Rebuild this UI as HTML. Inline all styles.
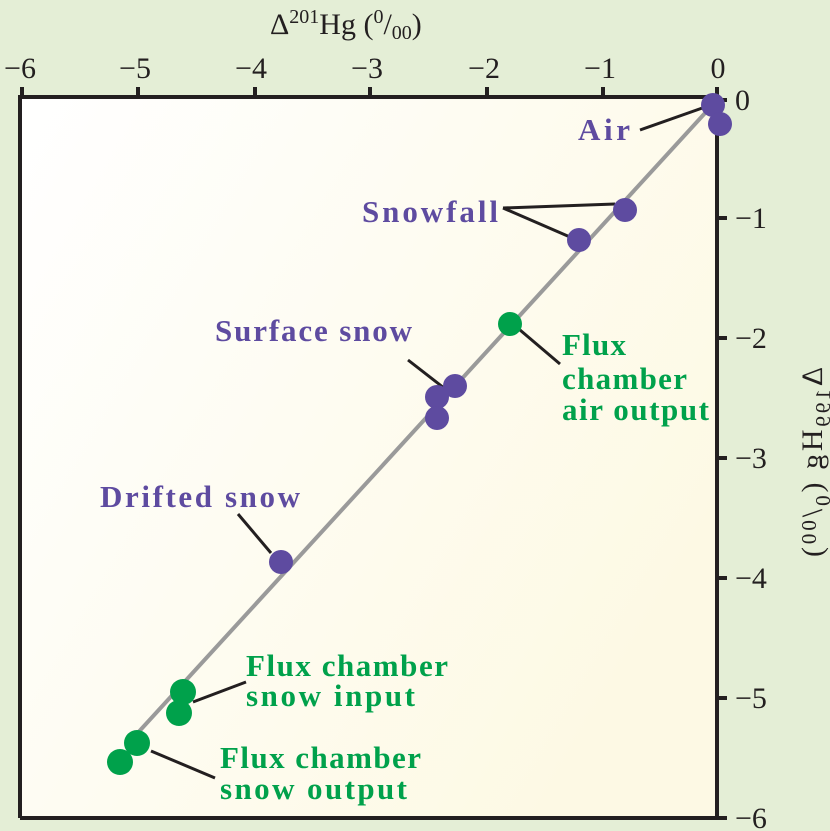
<!DOCTYPE html>
<html><head><meta charset="utf-8"><style>
html,body{margin:0;padding:0;background:#e4eed6;}
svg{display:block}
text{font-family:"Liberation Serif",serif;}
.t{font-size:30px;fill:#231f20}
.p{font-size:31px;font-weight:bold;fill:#5e4ba0}
.g{font-size:31px;font-weight:bold;fill:#00a14b}
</style></head><body>
<svg width="830" height="831" viewBox="0 0 830 831">
<defs><linearGradient id="bg" x1="0" y1="0" x2="1" y2="0.6">
<stop offset="0" stop-color="#ffffff"/><stop offset="1" stop-color="#fdf9e4"/></linearGradient></defs>
<rect width="830" height="831" fill="#e4eed6"/>
<rect x="20" y="97" width="697" height="721" fill="url(#bg)"/>
<g stroke="#231f20" stroke-width="4" fill="none">
<polyline points="20,818 20,97 717,97 717,818 20,818"/>
<path d="M22,97v-10M138,97v-10M255,97v-10M370,97v-10M487,97v-10M603,97v-10M717,97v-10"/>
<path d="M717,100h10M717,218h10M717,338h10M717,458h10M717,578h10M717,698h10M717,818h10"/>
</g>
<g class="t" text-anchor="middle">
<text x="20" y="78">−6</text><text x="135" y="78">−5</text><text x="251" y="78">−4</text>
<text x="367" y="78">−3</text><text x="484" y="78">−2</text><text x="600" y="78">−1</text><text x="718" y="78">0</text>
</g>
<g class="t">
<text x="735" y="110">0</text><text x="735" y="228">−1</text><text x="735" y="348">−2</text>
<text x="735" y="468">−3</text><text x="735" y="588">−4</text><text x="735" y="708">−5</text><text x="735" y="828">−6</text>
</g>
<text class="t" x="270" y="34" font-size="32">Δ<tspan font-size="20" dy="-11">201</tspan><tspan dy="11">Hg (</tspan><tspan font-size="20" dy="-11">0</tspan><tspan dy="11">/</tspan><tspan font-size="20" dy="5">00</tspan><tspan dy="-5">)</tspan></text>
<text class="t" font-size="32" transform="translate(822,367) scale(-1,1) rotate(90)" x="0" y="0" textLength="190" lengthAdjust="spacing">Δ<tspan font-size="21" dy="8">199</tspan><tspan dy="-8">Hg (</tspan><tspan font-size="21" dy="8">0</tspan><tspan dy="-8">/</tspan><tspan font-size="21" dy="-6">00</tspan><tspan dy="6">)</tspan></text>
<line x1="717" y1="100" x2="134" y2="737" stroke="#9a9a9a" stroke-width="4"/>
<g stroke="#231f20" stroke-width="3">
<line x1="640" y1="130" x2="708" y2="106"/>
<line x1="503" y1="208" x2="615" y2="204"/>
<line x1="503" y1="208" x2="570" y2="237"/>
<line x1="408" y1="360" x2="444" y2="388"/>
<line x1="238" y1="514" x2="271" y2="553"/>
<line x1="520" y1="330" x2="560" y2="364"/>
<line x1="193" y1="702" x2="246" y2="682"/>
<line x1="151" y1="751" x2="215" y2="778"/>
</g>
<g fill="#5e4ba0">
<circle cx="713" cy="105" r="12"/><circle cx="720" cy="124" r="12"/>
<circle cx="625" cy="210" r="12"/><circle cx="579" cy="240" r="12"/>
<circle cx="455" cy="386" r="12"/><circle cx="437" cy="397" r="12"/><circle cx="437" cy="418" r="12"/>
<circle cx="281" cy="562" r="12"/>
</g>
<g fill="#00a14b">
<circle cx="510" cy="324" r="12"/>
<circle cx="183" cy="692" r="13"/><circle cx="179" cy="713" r="13"/>
<circle cx="137" cy="743" r="13"/><circle cx="120" cy="762" r="13"/>
</g>
<text class="p" x="578" y="140" textLength="52" lengthAdjust="spacing">Air</text>
<text class="p" x="362" y="222" textLength="136" lengthAdjust="spacing">Snowfall</text>
<text class="p" x="215" y="341" textLength="197" lengthAdjust="spacing">Surface snow</text>
<text class="p" x="100" y="507" textLength="200" lengthAdjust="spacing">Drifted snow</text>
<text class="g" x="562" y="355" textLength="64" lengthAdjust="spacing">Flux</text>
<text class="g" x="562" y="389" textLength="125" lengthAdjust="spacing">chamber</text>
<text class="g" x="562" y="420" textLength="147" lengthAdjust="spacing">air output</text>
<text class="g" x="246" y="676" textLength="202" lengthAdjust="spacing">Flux chamber</text>
<text class="g" x="246" y="706" textLength="169" lengthAdjust="spacing">snow input</text>
<text class="g" x="220" y="768" textLength="201" lengthAdjust="spacing">Flux chamber</text>
<text class="g" x="220" y="799" textLength="187" lengthAdjust="spacing">snow output</text>
</svg>
</body></html>
